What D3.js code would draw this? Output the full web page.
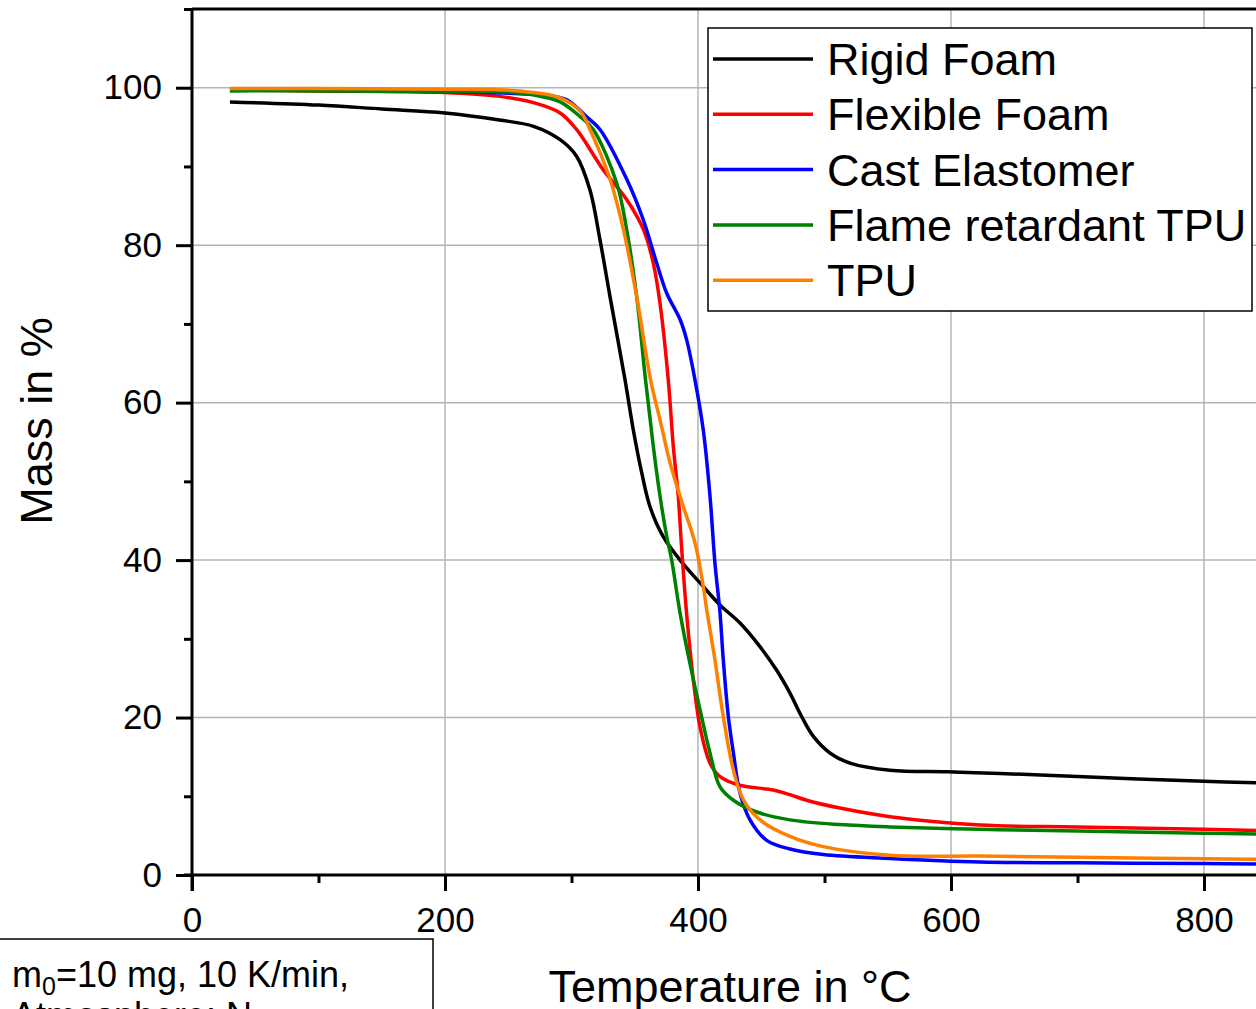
<!DOCTYPE html>
<html>
<head>
<meta charset="utf-8">
<script src="https://cdn.jsdelivr.net/npm/d3@7"></script>
<style>
  body { margin: 0; background: #fff; }
  svg { display: block; font-family: "Liberation Sans", Arial, sans-serif; }
</style>
</head>
<body>
<svg></svg>
<script>
// TGA curves (temperature in °C, mass in %)
const seriesNames = ["Rigid Foam", "Flexible Foam", "Cast Elastomer", "Flame retardant TPU", "TPU"];
const seriesColors = ["#000000", "#ff0000", "#0000ff", "#008000", "#ff8000"];

const rigidT = [30, 100, 150, 200, 243, 270, 291, 304, 314.6, 322.5, 330.4, 342.3, 348.9, 355.5, 362, 372.4, 385.8, 401.6, 417.4, 433.2, 449, 462.2, 472.7, 482, 491.2, 504.3, 520.2, 551.8, 597, 639, 700, 800, 850];
const rigidM = [98.2, 97.8, 97.3, 96.8, 95.9, 95.1, 93.4, 91.3, 87.0, 80.7, 73.5, 62.9, 56.5, 51.1, 46.8, 43.0, 40.0, 37.1, 34.3, 32.0, 29.0, 26.0, 23.1, 20.1, 17.6, 15.5, 14.2, 13.3, 13.1, 12.9, 12.5, 11.9, 11.7];

const flexT = [30, 100, 200, 243, 270, 291, 304, 325, 343.6, 356.8, 364.7, 370, 376.5, 380.5, 384.4, 387, 391, 396.3, 401.6, 409.5, 417.4, 433.2, 459.5, 472.7, 485.9, 512.3, 551.8, 623, 700, 800, 850];
const flexM = [99.7, 99.6, 99.4, 98.9, 98.1, 96.8, 94.7, 89.6, 85.8, 82.0, 77.7, 72.6, 62.9, 54.4, 48.1, 41.7, 33.2, 24.8, 18.8, 14.2, 12.5, 11.4, 10.8, 10.2, 9.5, 8.5, 7.4, 6.35, 6.1, 5.8, 5.6];

const castT = [30, 100, 200, 250, 280, 296, 312, 322.5, 343.6, 356.8, 367.4, 375.3, 386, 391, 397.6, 404.2, 409.5, 413.4, 417.4, 420, 424, 428, 433.2, 441.1, 454.3, 472.7, 499, 551.8, 623, 700, 800, 850];
const castM = [99.8, 99.7, 99.5, 99.3, 99.0, 98.5, 96.3, 94.7, 88.4, 83.2, 77.7, 73.9, 70.5, 68.0, 62.9, 56.5, 48.1, 39.6, 33.3, 27.3, 20.1, 15.5, 10.4, 7.0, 4.4, 3.3, 2.6, 2.1, 1.65, 1.55, 1.45, 1.4];

const frT = [30, 100, 200, 243, 270, 291, 307, 317.2, 335.7, 343.6, 351.5, 358.5, 364.7, 370, 375.3, 379.2, 385.8, 393.7, 401.6, 409.5, 417.4, 428, 446.4, 472.7, 512.3, 551.8, 623, 700, 800, 850];
const frM = [99.6, 99.6, 99.5, 99.5, 99.1, 98.2, 96.3, 94.7, 87.9, 82.0, 73.5, 62.9, 54.4, 48.1, 43.0, 40.0, 33.3, 26.8, 21.0, 15.5, 11.2, 9.5, 8.0, 7.0, 6.4, 6.1, 5.8, 5.6, 5.3, 5.2];

const tpuT = [30, 100, 200, 243, 270, 291, 307, 314.6, 330.4, 341, 351.5, 362.5, 370, 378, 388.4, 397.6, 404.2, 406.9, 413.4, 420, 428, 436, 449, 472.7, 499, 551.8, 623, 700, 800, 850];
const tpuM = [99.9, 99.9, 99.8, 99.75, 99.4, 98.7, 97.0, 94.7, 88.4, 82.0, 73.5, 62.9, 57.8, 52.3, 46.8, 42.2, 36.6, 33.7, 27.3, 20.1, 13.3, 9.5, 7.0, 4.9, 3.6, 2.5, 2.4, 2.25, 2.05, 2.0];

const xMajor = [0, 200, 400, 600, 800];
const xMinor = [100, 300, 500, 700];
const yMajor = [0, 20, 40, 60, 80, 100];
const yMinor = [10, 30, 50, 70, 90, 110];

const svgWidth = 1256;
const svgHeight = 1009;

const svg = d3.select("svg")
    .attr("width", svgWidth)
    .attr("height", svgHeight);

const plotLeft = 192, plotTop = 9, plotBottom = 875;

const x = d3.scaleLinear().domain([0, 800]).range([plotLeft, 1204]);
const y = d3.scaleLinear().domain([0, 110]).range([plotBottom, plotTop]);

const series = [
    [rigidT, rigidM], [flexT, flexM], [castT, castM], [frT, frM], [tpuT, tpuM]
].map((s, i) => ({
    name: seriesNames[i],
    color: seriesColors[i],
    values: s[0].map((t, j) => ({t: t, m: s[1][j]}))
}));

// grid
svg.append("g")
    .selectAll("line")
    .data(xMajor.filter(d => d > 0))
    .enter().append("line")
    .attr("x1", d => x(d)).attr("x2", d => x(d))
    .attr("y1", y(110)).attr("y2", y(0))
    .attr("stroke", "#b4b4b4").attr("stroke-width", 1.5);

svg.append("g")
    .selectAll("line")
    .data(yMajor.filter(d => d > 0))
    .enter().append("line")
    .attr("x1", plotLeft).attr("x2", svgWidth)
    .attr("y1", d => y(d)).attr("y2", d => y(d))
    .attr("stroke", "#b4b4b4").attr("stroke-width", 1.5);

// curves
svg.append("clipPath").attr("id", "plot")
    .append("rect")
    .attr("x", plotLeft).attr("y", plotTop)
    .attr("width", svgWidth - plotLeft).attr("height", plotBottom - plotTop);

const line = d3.line()
    .x(d => x(d.t))
    .y(d => y(d.m))
    .curve(d3.curveCatmullRom.alpha(0.5));

svg.append("g")
    .attr("clip-path", "url(#plot)")
    .selectAll("path")
    .data(series)
    .enter().append("path")
    .attr("fill", "none")
    .attr("stroke", d => d.color)
    .attr("stroke-width", 3.5)
    .attr("stroke-linejoin", "round")
    .attr("d", d => line(d.values));

// axes
const xAxis = svg.append("g")
    .attr("transform", "translate(0," + plotBottom + ")")
    .call(d3.axisBottom(x).tickValues(xMajor).tickSize(16).tickSizeOuter(0).tickPadding(16));
xAxis.select(".domain").attr("d", "M" + (plotLeft - 8) + ",0H" + svgWidth);

svg.append("g")
    .attr("transform", "translate(0," + plotBottom + ")")
    .call(d3.axisBottom(x).tickValues(xMinor).tickSize(8).tickFormat(""))
    .call(g => g.select(".domain").remove());

const yAxis = svg.append("g")
    .attr("transform", "translate(" + plotLeft + ",0)")
    .call(d3.axisLeft(y).tickValues(yMajor).tickSize(16).tickSizeOuter(0).tickPadding(14));
yAxis.select(".domain").attr("d", "M0," + plotTop + "V" + (plotBottom + 16));

svg.append("g")
    .attr("transform", "translate(" + plotLeft + ",0)")
    .call(d3.axisLeft(y).tickValues(yMinor).tickSize(8).tickFormat(""))
    .call(g => g.select(".domain").remove());

svg.selectAll(".domain").attr("stroke", "#000").attr("stroke-width", 3);
svg.selectAll(".tick line").attr("stroke", "#000").attr("stroke-width", 3);
svg.selectAll(".tick text")
    .attr("font-family", "'Liberation Sans', Arial, sans-serif")
    .attr("font-size", 35)
    .attr("fill", "#000");

// top frame
svg.append("line")
    .attr("x1", plotLeft).attr("x2", svgWidth)
    .attr("y1", y(110)).attr("y2", y(110))
    .attr("stroke", "#000").attr("stroke-width", 3);

// axis titles
svg.append("text")
    .attr("transform", "translate(52,421) rotate(-90)")
    .attr("text-anchor", "middle")
    .attr("font-size", 45)
    .text("Mass in %");

svg.append("text")
    .attr("x", 730).attr("y", 1002)
    .attr("text-anchor", "middle")
    .attr("font-size", 45)
    .text("Temperature in °C");

// legend
const legend = svg.append("g");
legend.append("rect")
    .attr("x", 708).attr("y", 28)
    .attr("width", 544).attr("height", 283)
    .attr("fill", "#fff").attr("stroke", "#000").attr("stroke-width", 1.5);

const item = legend.selectAll("g.item")
    .data(series)
    .enter().append("g")
    .attr("transform", (d, i) => "translate(0," + (59 + i * 55.3) + ")");

item.append("line")
    .attr("x1", 713).attr("x2", 813)
    .attr("stroke", d => d.color).attr("stroke-width", 3.5);

item.append("text")
    .attr("x", 827).attr("y", 16)
    .attr("font-size", 45)
    .text(d => d.name);

// conditions box
const note = svg.append("g");
note.append("rect")
    .attr("x", -2).attr("y", 939)
    .attr("width", 435).attr("height", 120)
    .attr("fill", "#fff").attr("stroke", "#000").attr("stroke-width", 1.5);

const t1 = note.append("text").attr("x", 12).attr("y", 987).attr("font-size", 36);
t1.append("tspan").text("m");
t1.append("tspan").attr("font-size", 25).attr("dy", 8).text("0");
t1.append("tspan").attr("dy", -8).text("=10 mg, 10 K/min,");

const t2 = note.append("text").attr("x", 12).attr("y", 1028).attr("font-size", 36);
t2.append("tspan").text("Atmosphere: N");
t2.append("tspan").attr("font-size", 25).attr("dy", 8).text("2");
</script>
</body>
</html>
